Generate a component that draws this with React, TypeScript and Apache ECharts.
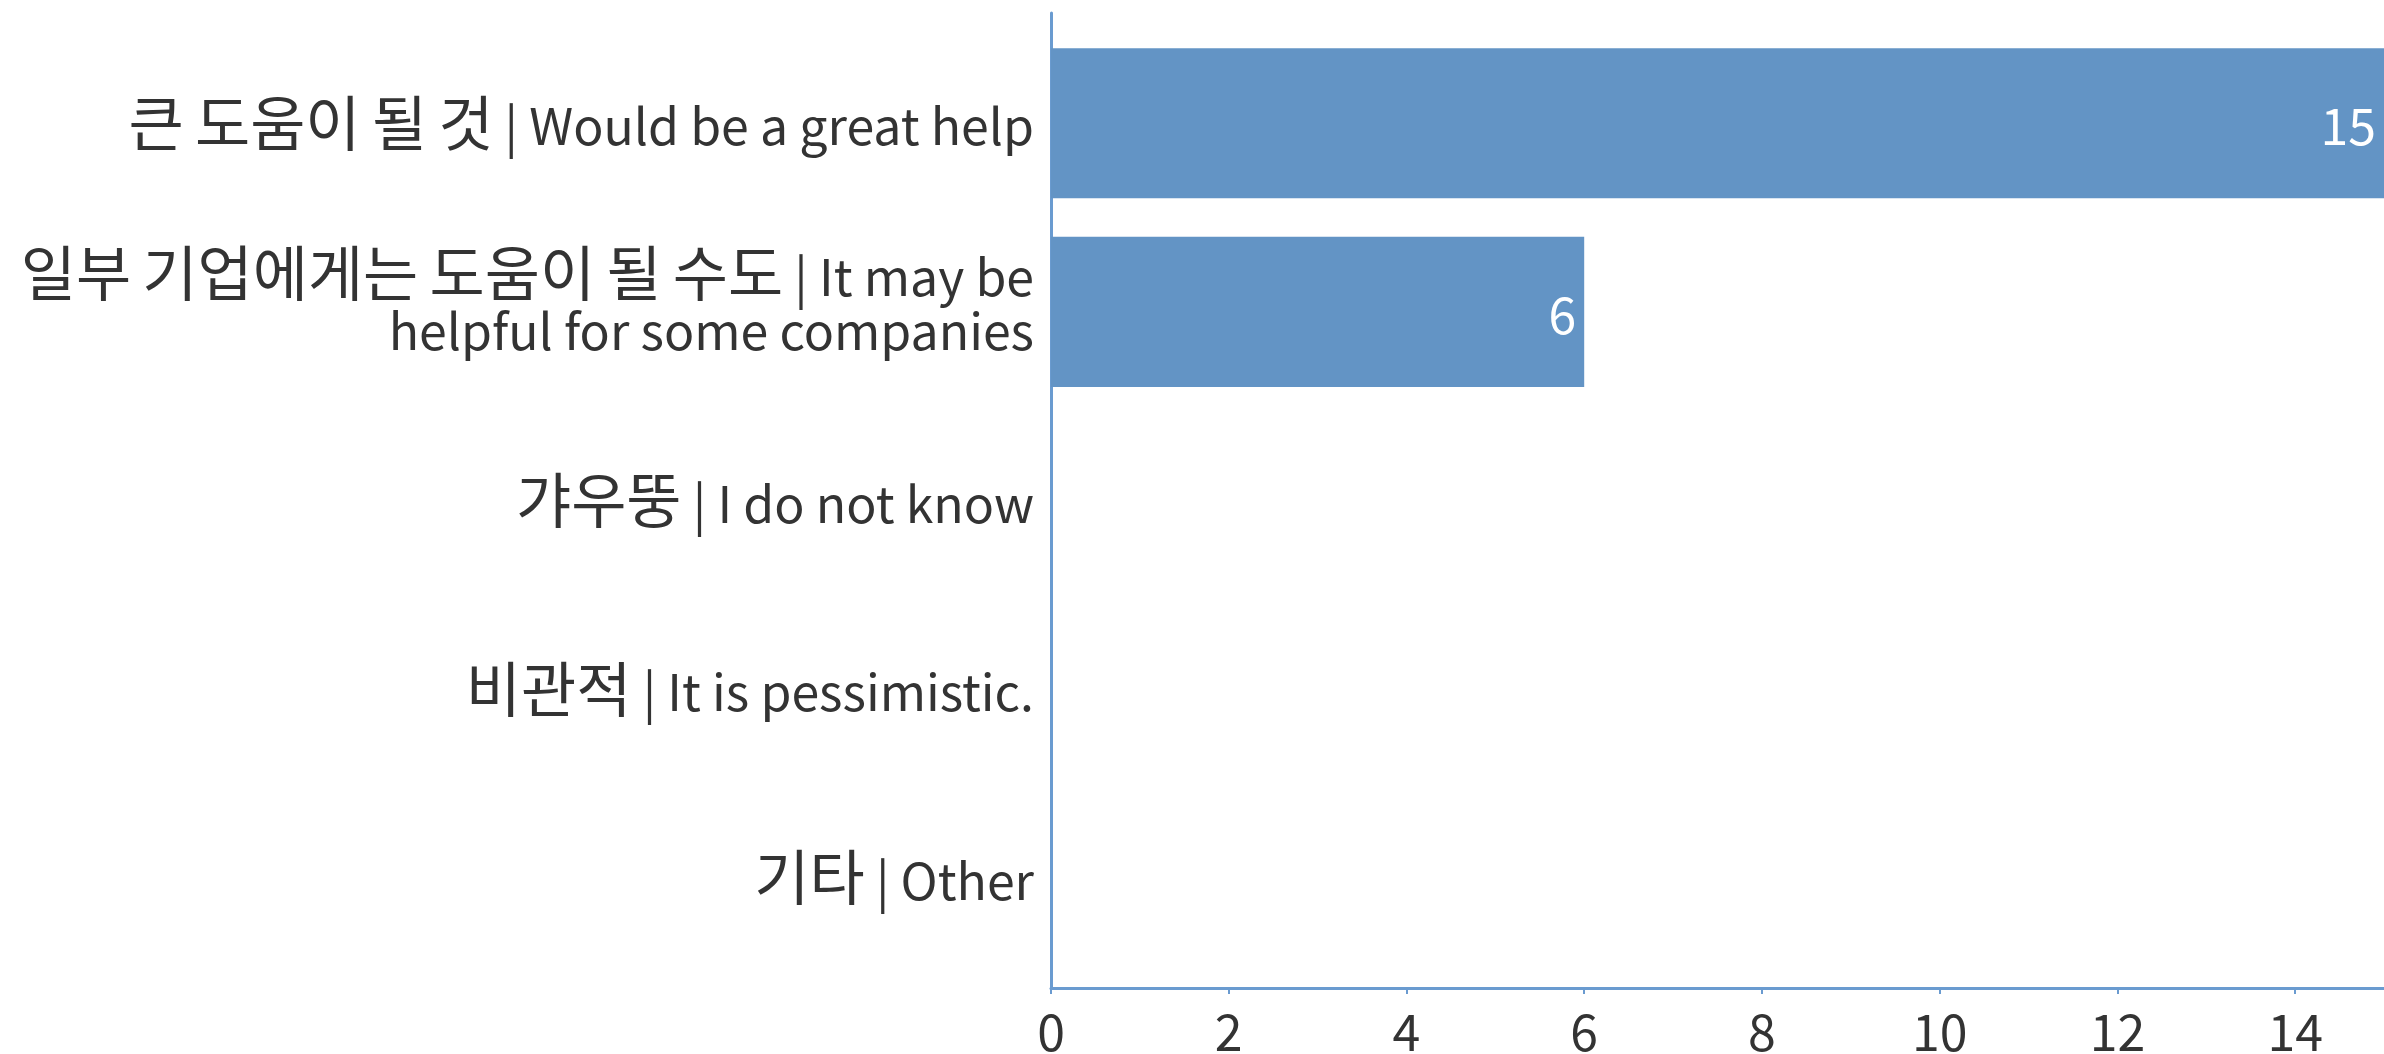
import React, { useEffect, useRef } from "react";
import * as echarts from "echarts";

const categories = [
  "큰 도움이 될 것 | Would be a great help",
  "일부 기업에게는 도움이 될 수도 | It may be\nhelpful for some companies",
  "갸우뚱 | I do not know",
  "비관적 | It is pessimistic.",
  "기타 | Other",
];
const values = [15, 6, 0, 0, 0];
const xMin = 0;
const xMax = 15;
const xInterval = 2;

const FONT = "'Noto Sans CJK KR', 'Noto Sans', sans-serif";
const TEXT = "#333333";
const BAR = "#6394c5";
const AXIS = "#6a9bd0";

// wrap runs of Hangul in a larger-size rich token
function wrapHangul(s: string, latinToken: string | null): string {
  const re = /[\uac00-\ud7a3\u3130-\u318f]+/g;
  let out = "";
  let last = 0;
  let m: RegExpExecArray | null;
  const lat = (t: string) => (t ? (latinToken ? "{" + latinToken + "|" + t + "}" : t) : "");
  while ((m = re.exec(s)) !== null) {
    out += lat(s.slice(last, m.index));
    out += "{h|" + m[0] + "}";
    last = m.index + m[0].length;
  }
  out += lat(s.slice(last));
  return out;
}

export default function App() {
  const ref = useRef<HTMLDivElement>(null);
  useEffect(() => {
    if (!ref.current) return;
    const chart = echarts.init(ref.current, null, { renderer: "svg" });
    const left = 1051;
    const right = -4;
    chart.setOption({
      animation: false,
      backgroundColor: "#ffffff",
      textStyle: { fontFamily: FONT },
      grid: [
        { left, right, top: 29, bottom: 82, containLabel: false },
        { left, right, top: 13, bottom: 66, containLabel: false },
      ],
      xAxis: [
        { type: "value", gridIndex: 0, min: xMin, max: xMax, interval: xInterval, show: false },
        {
          type: "value",
          gridIndex: 1,
          min: xMin,
          max: xMax,
          interval: xInterval,
          axisLine: { show: true, onZero: false, lineStyle: { color: AXIS, width: 3 } },
          axisTick: { show: true, length: 6, lineStyle: { color: AXIS, width: 2 } },
          splitLine: { show: false },
          axisLabel: {
            show: true,
            showMaxLabel: false,
            margin: 21,
            fontSize: 50,
            lineHeight: 40,
            color: TEXT,
            fontFamily: FONT,
          },
        },
      ],
      yAxis: [
        {
          type: "category",
          gridIndex: 0,
          inverse: true,
          data: categories,
          axisLine: { show: false },
          axisTick: { show: false },
          splitLine: { show: false },
          axisLabel: {
            margin: 17,
            fontSize: 50,
            lineHeight: 54,
            color: TEXT,
            fontFamily: FONT,
            align: "right",
            formatter: (v: string) => {
              const parts = v.split("\n");
              if (parts.length > 1) {
                return wrapHangul(parts[0], null) + "\n" + wrapHangul(parts[1], "b");
              }
              return wrapHangul(v, null);
            },
            rich: {
              h: {
                fontSize: 60,
                lineHeight: 54,
                color: TEXT,
                fontFamily: FONT,
                padding: [0, 0, 8, 0],
              },
              b: {
                fontSize: 50,
                lineHeight: 76,
                color: TEXT,
                fontFamily: FONT,
                padding: [0, 0, 22, 0],
              },
            },
          },
        },
        {
          type: "value",
          gridIndex: 1,
          min: 0,
          max: 1,
          axisLine: { show: true, onZero: false, lineStyle: { color: AXIS, width: 3 } },
          axisTick: { show: false },
          axisLabel: { show: false },
          splitLine: { show: false },
        },
      ],
      series: [
        {
          type: "bar",
          xAxisIndex: 0,
          yAxisIndex: 0,
          data: values,
          barCategoryGap: "20.4%",
          itemStyle: { color: BAR },
          label: {
            show: true,
            position: "insideRight",
            distance: 8,
            color: "#ffffff",
            fontSize: 50,
            fontFamily: FONT,
            formatter: (p: any) => (p.value ? String(p.value) : ""),
          },
        },
      ],
    });
    return () => chart.dispose();
  }, []);
  return (
    <div
      ref={ref}
      style={{ position: "fixed", left: 0, top: 0, width: 2384, height: 1054, background: "#fff" }}
    />
  );
}
